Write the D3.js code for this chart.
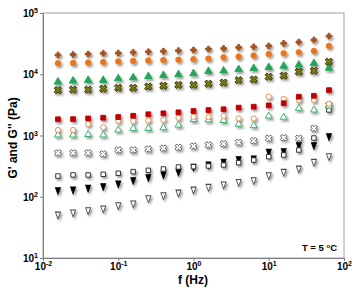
<!DOCTYPE html>
<html>
<head>
<meta charset="utf-8">
<script src="https://cdn.jsdelivr.net/npm/d3@7"></script>
<style>
  body { margin: 0; background: #fff; }
  svg { display: block; font-family: "Liberation Sans", Arial, sans-serif; }
</style>
</head>
<body>
<div id="chart"></div>
<script>
// frecuencias (Hz)
const freq = [0.0158, 0.0251, 0.0398, 0.0631, 0.1, 0.158, 0.251, 0.398, 0.631, 1,
              1.58, 2.51, 3.98, 6.31, 10, 15.8, 25.1, 39.8, 63.1];

// series (Pa)
const brownPlus = [20600, 21000, 21400, 22000, 22200, 22800, 23300, 23800, 24300, 24900,
                   25800, 26400, 27500, 28000, 29000, 32000, 33600, 36300, 42000];
const orangeDot = [15100, 15300, 15500, 15800, 16200, 16500, 16800, 17000, 17300, 17600,
                   18000, 18900, 19400, 20200, 21400, 22000, 22800, 24000, 29000];
const greenTri = [7500, 7800, 8000, 8000, 8500, 8800, 9200, 9600, 9900, 10300,
                  11200, 11400, 12000, 12500, 13000, 13600, 14200, 15100, 12600];
const oliveX = [5500, 5600, 5600, 5800, 6000, 6000, 6300, 6500, 6700, 6700,
                7000, 7300, 8000, 8200, 9100, 9500, 11000, 11400, 16000];
const redSq = [1840, 1850, 1900, 1950, 2000, 2100, 2220, 2300, 2390, 2510,
               2600, 2680, 2850, 2950, 3100, 3360, 4300, 4450, 5500];
const openCircle = [1230, 1230, 1540, 1360, 1730, 1730, 1760, 1800, 1950, 2020,
                    2000, 2080, 1900, 1900, 4300, 3960, 3800, 3800, 3300];
const openTri = [1020, 1020, 1040, 1020, 1230, 1310, 1310, 1340, 1480, 1830,
                 1800, 1760, 1530, 1450, 2080, 1990, 2780, 2610, 3030];
const grayX = [520, 520, 520, 500, 580, 580, 600, 620, 640, 670,
               700, 730, 770, 820, 900, 920, 900, 1310, 3150];
const openSq = [218, 227, 227, 233, 242, 257, 270, 284, 306, 310,
                318, 330, 360, 398, 451, 481, 580, 910, 2610];
const blackDown = [129, 132, 141, 150, 166, 188, 210, 233, 257, 310,
                   339, 374, 413, 424, 544, 558, 700, 700, 981];
const openDown = [51.6, 55.7, 60.8, 64.8, 73.3, 78.2, 95.5, 107, 118, 132,
                  146, 160, 176, 188, 226, 257, 291, 374, 463];

const yTicks = [10, 100, 1000, 10000, 100000];
const xTicks = [0.01, 0.1, 1, 10, 100];

const width = 355, height = 293;
const margin = { top: 13, right: 11, bottom: 35, left: 43 };

const svg = d3.select("#chart").append("svg")
  .attr("width", width)
  .attr("height", height);

// sombra de los marcadores
svg.append("defs").append("filter")
  .attr("id", "shadow")
  .attr("x", "-50%").attr("y", "-50%")
  .attr("width", "250%").attr("height", "250%")
  .append("feDropShadow")
  .attr("dx", 1.6).attr("dy", 2)
  .attr("stdDeviation", 0.9)
  .attr("flood-color", "#000")
  .attr("flood-opacity", 0.4);

const x = d3.scaleLog().domain([0.01, 100]).range([margin.left, width - margin.right]);
const y = d3.scaleLog().domain([10, 100000]).range([height - margin.bottom, margin.top]);

// marco
svg.append("rect")
  .attr("x", margin.left).attr("y", margin.top)
  .attr("width", width - margin.left - margin.right)
  .attr("height", height - margin.top - margin.bottom)
  .attr("fill", "none")
  .attr("stroke", "#a0a0a0")
  .attr("stroke-width", 1);

function supLabel(sel) {
  sel.text(null);
  sel.append("tspan").text("10");
  sel.append("tspan")
    .attr("dy", -4)
    .attr("font-size", 7)
    .text(d => Math.round(Math.log10(d)));
}

const yAxis = svg.append("g")
  .attr("transform", `translate(${margin.left},0)`)
  .call(d3.axisLeft(y).tickValues(yTicks).tickSize(3).tickSizeOuter(0));
yAxis.select(".domain").attr("stroke", "#7f7f7f");
yAxis.selectAll(".tick line").attr("stroke", "#7f7f7f");
yAxis.selectAll(".tick text")
  .attr("x", -5)
  .attr("dy", "0.35em")
  .attr("font-size", 10)
  .attr("font-weight", "bold")
  .attr("fill", "#000")
  .each(function(d) { supLabel(d3.select(this)); });

const xAxis = svg.append("g")
  .attr("transform", `translate(0,${height - margin.bottom})`)
  .call(d3.axisBottom(x).tickValues(xTicks).tickSize(3).tickSizeOuter(0));
xAxis.select(".domain").attr("stroke", "#7f7f7f");
xAxis.selectAll(".tick line").attr("stroke", "#7f7f7f");
xAxis.selectAll(".tick text")
  .attr("y", 5)
  .attr("dy", "0.71em")
  .attr("font-size", 10)
  .attr("font-weight", "bold")
  .attr("fill", "#000")
  .each(function(d) { supLabel(d3.select(this)); });

// títulos de ejes
svg.append("text")
  .attr("x", 193).attr("y", 284)
  .attr("text-anchor", "middle")
  .attr("font-size", 12)
  .attr("font-weight", "bold")
  .text("f (Hz)");

svg.append("text")
  .attr("transform", "translate(17,138) rotate(-90)")
  .attr("text-anchor", "middle")
  .attr("font-size", 12)
  .attr("font-weight", "bold")
  .text("G' and G'' (Pa)");

const tLabel = svg.append("text")
  .attr("x", 337).attr("y", 251)
  .attr("text-anchor", "end")
  .attr("font-size", 9.5)
  .attr("font-weight", "bold");
tLabel.append("tspan").text("T = 5 ");
tLabel.append("tspan").attr("font-size", 6).attr("dy", -3).text("o");
tLabel.append("tspan").attr("dy", 3).text("C");

// definición de series
const series = [
  { values: openDown, shape: d3.symbolTriangle, size: 17, rot: 180, sx: 0.8, sy: 1.25, fill: "#fff", stroke: "#444" },
  { values: blackDown, shape: d3.symbolTriangle, size: 17, rot: 180, sx: 0.8, sy: 1.25, fill: "#000", stroke: "#000" },
  { values: openSq, shape: d3.symbolSquare, size: 20, rot: 0, fill: "#fff", stroke: "#222" },
  { values: grayX, shape: d3.symbolCross, size: 28, rot: 45, fill: "#fff", stroke: "#555" },
  { values: openTri, shape: d3.symbolTriangle, size: 21, rot: 0, fill: "#fff", stroke: "#2eaa60" },
  { values: openCircle, shape: d3.symbolCircle, size: 21, rot: 0, fill: "#fff", stroke: "#e08a4a" },
  { values: redSq, shape: d3.symbolSquare, size: 23, rot: 0, fill: "#c00000", stroke: "#c00000" },
  { values: greenTri, shape: d3.symbolTriangle, size: 25, rot: 0, fill: "#23a55a", stroke: "#23a55a" },
  { values: oliveX, shape: d3.symbolCross, size: 34, rot: 45, fill: "#7a7a12", stroke: "#2f2f05" },
  { values: orangeDot, shape: d3.symbolCircle, size: 24, rot: 0, fill: "#e9761f", stroke: "#e9761f" },
  { values: brownPlus, shape: d3.symbolCross, size: 18, rot: 0, fill: "#a2521f", stroke: "#a2521f" }
];

const marks = svg.append("g").attr("filter", "url(#shadow)");

series.forEach(s => {
  const sym = d3.symbol().type(s.shape).size(s.size);
  marks.append("g")
    .selectAll("path")
    .data(s.values.map((v, i) => ({ f: freq[i], v })))
    .enter()
    .append("path")
    .attr("d", sym)
    .attr("transform", d =>
      `translate(${x(d.f)},${y(d.v)}) rotate(${s.rot}) scale(${s.sx || 1},${s.sy || 1})`)
    .attr("fill", s.fill)
    .attr("stroke", s.stroke)
    .attr("stroke-width", 0.9);
});
</script>
</body>
</html>
